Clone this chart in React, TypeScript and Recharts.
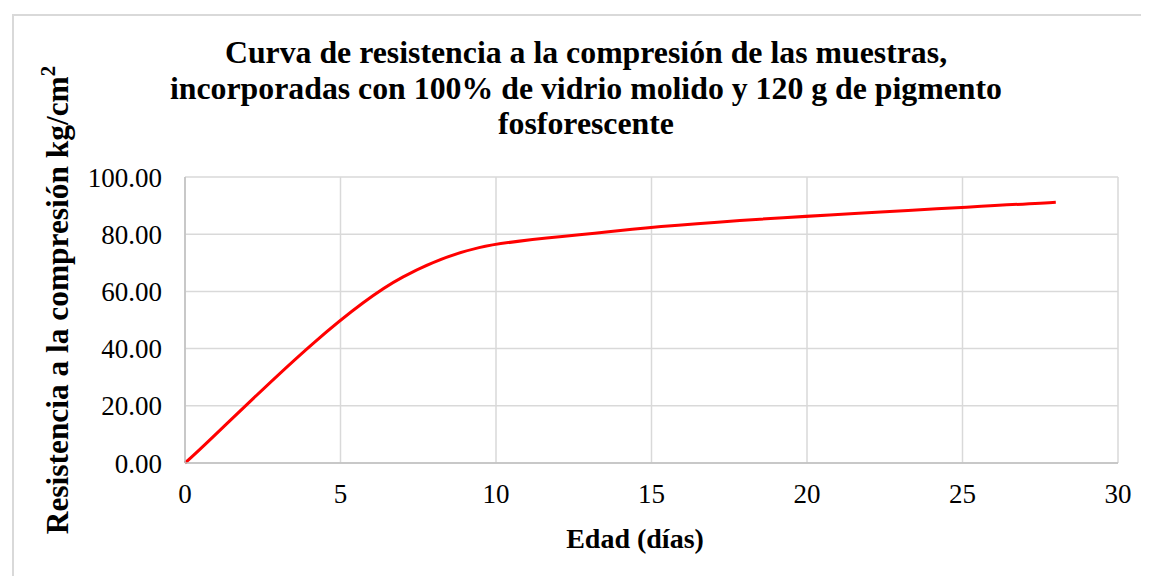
import React from 'react';
import { LineChart, Line, XAxis, YAxis, CartesianGrid } from 'recharts';

// edad de ensayo (días) y resistencia a la compresión (kg/cm2)
const edades = [0, 7, 14, 28];
const resistencia = [0, 65.0, 81.3, 91.2];

const xTicks = [0, 5, 10, 15, 20, 25, 30];
const yTicks = [0, 20, 40, 60, 80, 100];

const titleLines = [
    'Curva de resistencia a la compresión de las muestras,',
    'incorporadas con 100% de vidrio molido y 120 g de pigmento',
    'fosforescente',
];

const serif = '"Liberation Serif", "Times New Roman", serif';

// línea suavizada tipo Excel (Catmull-Rom con tensión 1/6)
const excelSmooth = (context: any) => {
    let pts: number[][] = [];
    return {
        areaStart() {},
        areaEnd() {},
        lineStart() {
            pts = [];
        },
        point(x: number, y: number) {
            pts.push([+x, +y]);
        },
        lineEnd() {
            if (!pts.length) return;
            context.moveTo(pts[0][0], pts[0][1]);
            for (let i = 0; i < pts.length - 1; i++) {
                const p0 = pts[i - 1] || pts[i];
                const p1 = pts[i];
                const p2 = pts[i + 1];
                const p3 = pts[i + 2] || p2;
                context.bezierCurveTo(
                    p1[0] + (p2[0] - p0[0]) / 6,
                    p1[1] + (p2[1] - p0[1]) / 6,
                    p2[0] - (p3[0] - p1[0]) / 6,
                    p2[1] - (p3[1] - p1[1]) / 6,
                    p2[0],
                    p2[1]
                );
            }
        },
    };
};

const App: React.FC = () => {
    const chartData = edades.map((edad, i) => ({ edad, valor: resistencia[i] }));

    return (
        <div style={{ position: 'relative', width: 1141, height: 568, overflow: 'hidden', fontFamily: serif }}>
            <div
                style={{
                    position: 'absolute', left: 4, top: 6, width: 1300, height: 700,
                    border: '2px solid #d9d9d9', boxSizing: 'border-box',
                }}
            />
            <div style={{ position: 'absolute', left: 0, top: 0 }}>
                <LineChart
                    width={1141}
                    height={568}
                    data={chartData}
                    margin={{ top: 169, right: 31, left: 97, bottom: 73 }}
                >
                    <CartesianGrid stroke="#d9d9d9" strokeWidth={1.5} />
                    <XAxis
                        dataKey="edad"
                        type="number"
                        domain={[0, 30]}
                        ticks={xTicks}
                        height={40}
                        stroke="#bfbfbf"
                        strokeWidth={1.5}
                        tickLine={false}
                        tickSize={0}
                        tickMargin={21}
                        tick={{ fill: '#000', fontSize: 27, fontFamily: serif }}
                    />
                    <YAxis
                        type="number"
                        domain={[0, 100]}
                        ticks={yTicks}
                        width={80}
                        stroke="#bfbfbf"
                        strokeWidth={1.5}
                        tickLine={false}
                        tickSize={0}
                        tickMargin={23}
                        tickFormatter={(v: number) => v.toFixed(2)}
                        tick={{ fill: '#000', fontSize: 27, fontFamily: serif }}
                    />
                    <Line
                        type={excelSmooth as any}
                        dataKey="valor"
                        stroke="#ff0000"
                        strokeWidth={3}
                        dot={false}
                        isAnimationActive={false}
                    />
                </LineChart>
            </div>
            <svg
                width={1141}
                height={568}
                style={{ position: 'absolute', left: 0, top: 0, pointerEvents: 'none' }}
            >
                {titleLines.map((line, i) => (
                    <text
                        key={i}
                        x={578}
                        y={55 + i * 35.5}
                        textAnchor="middle"
                        fontSize={31.8}
                        fontWeight="bold"
                        fontFamily={serif}
                        fill="#000"
                    >
                        {line}
                    </text>
                ))}
                <text
                    x={627}
                    y={540}
                    textAnchor="middle"
                    fontSize={28}
                    fontWeight="bold"
                    fontFamily={serif}
                    fill="#000"
                >
                    Edad (días)
                </text>
                <text
                    x={60}
                    y={292}
                    transform="rotate(-90 60 292)"
                    textAnchor="middle"
                    fontSize={31.4}
                    fontWeight="bold"
                    fontFamily={serif}
                    fill="#000"
                >
                    Resistencia a la compresión kg/cm
                    <tspan fontSize={21} dy={-13}>2</tspan>
                </text>
            </svg>
        </div>
    );
};

export default App;
